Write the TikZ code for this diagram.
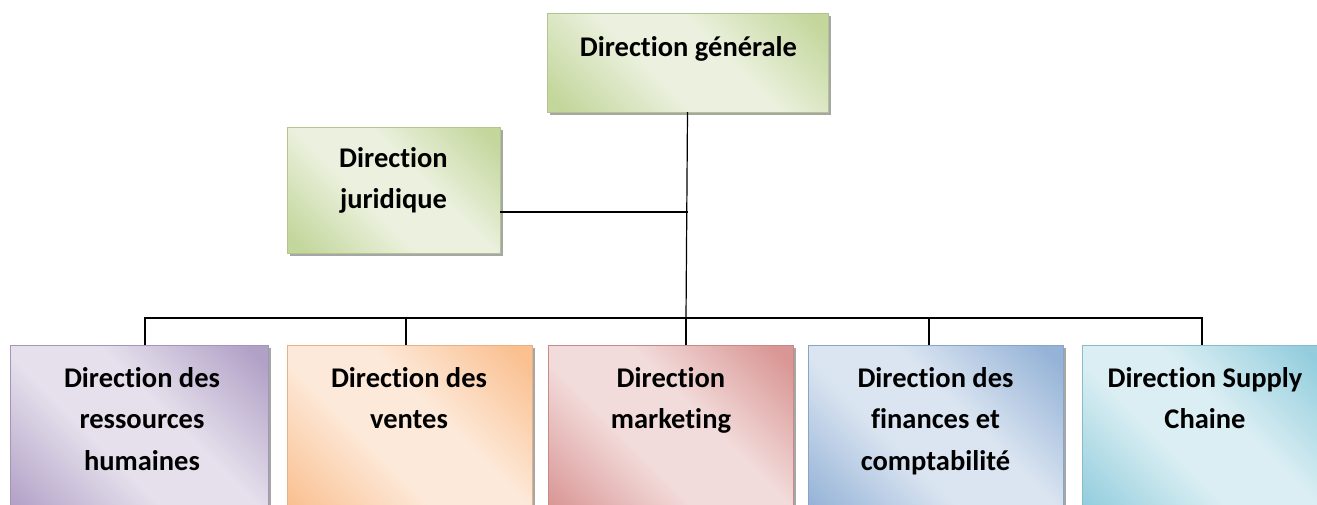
\documentclass[tikz,border=0pt]{standalone}
\usepackage{fontspec}
\setmainfont{Carlito}[Ligatures=NoCommon]
\usetikzlibrary{shadows}

% Box palette: dark tone / light tone
\definecolor{greenD}{HTML}{C3D69B}\definecolor{greenL}{HTML}{EBF1DE}
\definecolor{purpleD}{HTML}{B2A1C7}\definecolor{purpleL}{HTML}{E5E0EC}
\definecolor{orangeD}{HTML}{FAC090}\definecolor{orangeL}{HTML}{FDE9D9}
\definecolor{redD}{HTML}{D99694}\definecolor{redL}{HTML}{F2DCDB}
\definecolor{blueD}{HTML}{95B3D7}\definecolor{blueL}{HTML}{DBE5F1}
\definecolor{cyanD}{HTML}{93CDDD}\definecolor{cyanL}{HTML}{DAEEF3}
\colorlet{dk}{greenD}\colorlet{lt}{greenL}

% Diagonal "subtle effect" fill: dark corners, light band across the middle
\pgfdeclareverticalshading[dk,lt]{subtle}{100bp}{%
  color(0bp)=(dk); color(18bp)=(dk); color(42bp)=(lt);
  color(58bp)=(lt); color(82bp)=(dk); color(100bp)=(dk)}

\tikzset{
  orgbox/.style 2 args={
    rectangle, inner sep=0pt, outer sep=0pt,
    /utils/exec={\colorlet{dk}{#1}\colorlet{lt}{#2}},
    shade, shading=subtle, shading angle=-45,
    draw=#1!92!black, line width=0.9pt,
    drop shadow={shadow xshift=3pt, shadow yshift=-3pt,
                 fill=black, opacity=0.35}},
  lbl/.style={inner sep=0pt, outer sep=0pt, align=center,
              font=\fontsize{28.5}{41.5}\selectfont\bfseries},
  conn/.style={draw=black, line width=1.2pt}
}

\begin{document}
\begin{tikzpicture}[x=1pt, y=-1pt]
\useasboundingbox (0,0) rectangle (1317,504);

% Top level
\node[orgbox={greenD}{greenL}, minimum width=281pt, minimum height=99pt]
  (gen) at (687.5,62.5) {};
\node[orgbox={greenD}{greenL}, minimum width=213pt, minimum height=126pt]
  (jur) at (393.5,190) {};

% Departments
\node[orgbox={purpleD}{purpleL}, minimum width=258pt, minimum height=180pt]
  (rh) at (139,435) {};
\node[orgbox={orangeD}{orangeL}, minimum width=245pt, minimum height=180pt]
  (ventes) at (409.5,435) {};
\node[orgbox={redD}{redL}, minimum width=245pt, minimum height=180pt]
  (mkt) at (670.5,435) {};
\node[orgbox={blueD}{blueL}, minimum width=255pt, minimum height=180pt]
  (fin) at (935.5,435) {};
\node[orgbox={cyanD}{cyanL}, minimum width=240pt, minimum height=180pt]
  (sc) at (1202,435) {};

% Labels
\node[lbl, anchor=base] (tgen) at (688.5,56) {Direction générale};
\node[lbl, anchor=north] (tjur) at (393.5,138) {\strut Direction\\juridique};
\node[lbl, anchor=north] (trh) at (142,358) {\strut Direction des\\ressources\\humaines};
\node[lbl, anchor=north] (tventes) at (409,358) {\strut Direction des\\ventes};
\node[lbl, anchor=north] (tmkt) at (671,358) {\strut Direction\\marketing};
\node[lbl, anchor=north] (tfin) at (935.5,358) {\strut Direction des\\finances et\\comptabilité};
\node[lbl, anchor=north] (tsc) at (1205,358) {\strut Direction Supply\\Chaine};

% Connectors
\coordinate (bus) at (686,318);
\draw[conn] (gen.south) -- (bus);
\draw[conn] ([yshift=-22pt]jur.east) -- ([yshift=-22pt]jur.east -| gen.south);
\draw[conn] ([xshift=6pt]rh.north) |- (bus) -| (sc.north);
\draw[conn] ([xshift=-3.5pt]ventes.north) -- ([xshift=-3.5pt]ventes.north |- bus);
\draw[conn] (mkt.north -| bus) -- (bus);
\draw[conn] ([xshift=-6.5pt]fin.north) -- ([xshift=-6.5pt]fin.north |- bus);
\end{tikzpicture}
\end{document}
